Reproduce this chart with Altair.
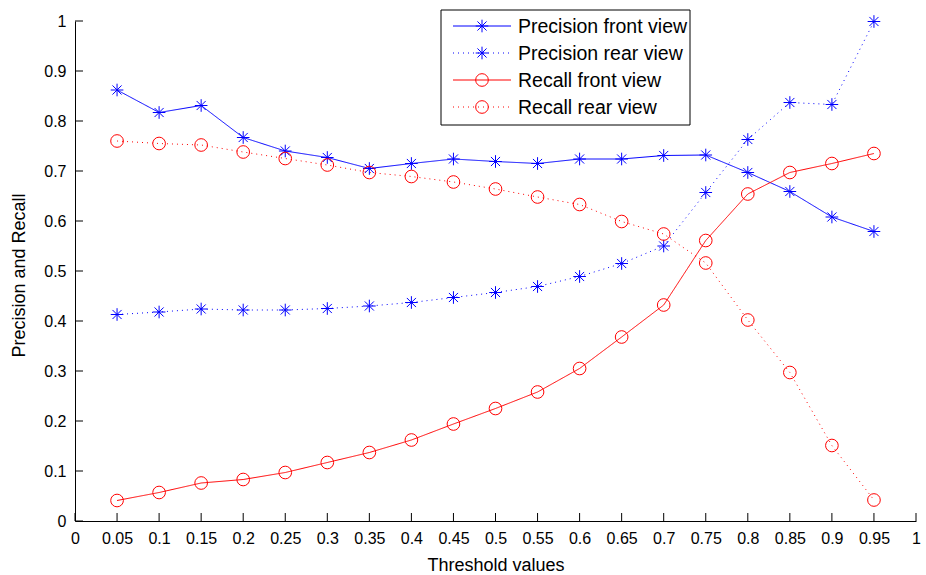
import altair as alt
import pandas as pd

thresholds = [0.05, 0.1, 0.15, 0.2, 0.25, 0.3, 0.35, 0.4, 0.45, 0.5,
              0.55, 0.6, 0.65, 0.7, 0.75, 0.8, 0.85, 0.9, 0.95]
precision_front = [0.862, 0.817, 0.831, 0.767, 0.740, 0.727, 0.705, 0.715, 0.724, 0.719,
                   0.715, 0.724, 0.724, 0.731, 0.732, 0.697, 0.659, 0.608, 0.579]
precision_rear = [0.413, 0.418, 0.424, 0.422, 0.422, 0.425, 0.430, 0.437, 0.447, 0.457,
                  0.469, 0.489, 0.515, 0.550, 0.657, 0.763, 0.837, 0.833, 0.999]
recall_front = [0.041, 0.057, 0.076, 0.083, 0.097, 0.117, 0.137, 0.162, 0.194, 0.225,
                0.258, 0.305, 0.368, 0.432, 0.561, 0.654, 0.697, 0.715, 0.735]
recall_rear = [0.760, 0.755, 0.752, 0.738, 0.725, 0.712, 0.697, 0.689, 0.678, 0.664,
               0.648, 0.633, 0.599, 0.574, 0.516, 0.402, 0.297, 0.151, 0.042]

series_names = ["Precision front view", "Precision rear view",
                "Recall front view", "Recall rear view"]
series_values = [precision_front, precision_rear, recall_front, recall_rear]
x_ticks = [round(i * 0.05, 2) for i in range(21)]
y_ticks = [round(i * 0.1, 1) for i in range(11)]

STAR = "M-1,0L1,0M0,-1L0,1M-0.72,-0.72L0.72,0.72M-0.72,0.72L0.72,-0.72"
colors = ["#0000ff", "#0000ff", "#ff0000", "#ff0000"]
dashes = [[1, 0], [1, 4], [1, 0], [1, 4]]
shapes = [STAR, STAR, "circle", "circle"]
sizes = [160, 160, 160, 160]

rows = []
for name, vals in zip(series_names, series_values):
    for t, v in zip(thresholds, vals):
        rows.append({"series": name, "t": t, "v": v})
df = pd.DataFrame(rows)

W, H = 841, 500
FONT = "Liberation Sans"

xs = alt.Scale(domain=[0, 1], nice=False, zero=False)
ys = alt.Scale(domain=[0, 1], nice=False, zero=False)

color_enc = alt.Color("series:N", scale=alt.Scale(domain=series_names, range=colors), legend=None)

base = alt.Chart(df)

lines = base.mark_line(strokeWidth=1, clip=False).encode(
    x=alt.X("t:Q", scale=xs,
            axis=alt.Axis(values=x_ticks, format="~g", title="Threshold values",
                          titleY=49, titleBaseline="alphabetic",
                          labelPadding=9, ticks=False, labelFlush=False)),
    y=alt.Y("v:Q", scale=ys,
            axis=alt.Axis(values=y_ticks, format="~g", title="Precision and Recall",
                          titleX=-51, titleY=254, titleBaseline="alphabetic",
                          labelPadding=9, ticks=False, labelFlush=False)),
    color=color_enc,
    strokeDash=alt.StrokeDash("series:N", scale=alt.Scale(domain=series_names, range=dashes), legend=None),
    detail="series:N",
)

points = base.mark_point(filled=False, strokeWidth=1, opacity=1).encode(
    x=alt.X("t:Q", scale=xs),
    y=alt.Y("v:Q", scale=ys),
    color=color_enc,
    shape=alt.Shape("series:N", scale=alt.Scale(domain=series_names, range=shapes), legend=None),
    size=alt.Size("series:N", scale=alt.Scale(domain=series_names, range=sizes), legend=None),
)

xtick_df = pd.DataFrame({"v": x_ticks})
ytick_df = pd.DataFrame({"v": y_ticks})
xtick_rules = alt.Chart(xtick_df).mark_rule(color="black", strokeWidth=1).encode(
    x=alt.X("v:Q", scale=xs), y=alt.value(H), y2=alt.value(H - 8))
ytick_rules = alt.Chart(ytick_df).mark_rule(color="black", strokeWidth=1).encode(
    y=alt.Y("v:Q", scale=ys), x=alt.value(0), x2=alt.value(8))

# legend (drawn manually, in pixel space)
one = alt.Data(values=[{"a": 1}])
lx0, lx1, ly0, ly1 = 366, 615, -11, 104
legend_layers = [
    alt.Chart(one).mark_rect(fill="white", stroke="black", strokeWidth=1).encode(
        x=alt.value(lx0), x2=alt.value(lx1), y=alt.value(ly0), y2=alt.value(ly1))
]
for i, name in enumerate(series_names):
    ry = 5 + 27 * i
    legend_layers.append(
        alt.Chart(one).mark_rule(color=colors[i], strokeWidth=1, strokeDash=dashes[i]).encode(
            x=alt.value(378), x2=alt.value(436), y=alt.value(ry)))
    legend_layers.append(
        alt.Chart(one).mark_point(filled=False, color=colors[i], strokeWidth=1, opacity=1,
                                  shape=shapes[i], size=sizes[i]).encode(
            x=alt.value(407), y=alt.value(ry)))
    legend_layers.append(
        alt.Chart(one).mark_text(align="left", baseline="middle", font=FONT, fontSize=19.5,
                                 color="black").encode(
            x=alt.value(443), y=alt.value(ry + 1), text=alt.value(name)))

chart = alt.layer(xtick_rules, ytick_rules, lines, points, *legend_layers).properties(
    width=W, height=H,
    background="white",
    autosize=alt.AutoSizeParams(type="none"),
    padding={"left": 75, "top": 21, "right": 10, "bottom": 54},
).configure_view(strokeWidth=0).configure_axis(
    domainColor="black", domainWidth=1, grid=False,
    labelFont=FONT, labelFontSize=16, labelColor="black",
    titleFont=FONT, titleFontSize=18, titleFontWeight="normal", titleColor="black",
)

chart.save("out.html", embed_options={"renderer": "svg", "actions": False})
